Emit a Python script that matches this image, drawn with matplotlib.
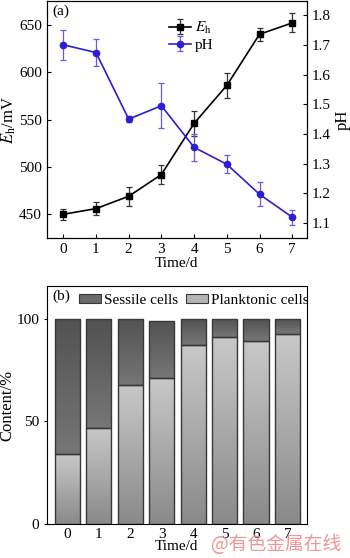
import matplotlib
matplotlib.use("Agg")
import matplotlib.pyplot as plt
import numpy as np
from matplotlib.patches import Patch

plt.rcParams['font.family'] = ['Liberation Serif', 'DejaVu Serif']
plt.rcParams['mathtext.fontset'] = 'stix'

days = [0, 1, 2, 3, 4, 5, 6, 7]
eh = [450, 456, 469, 492, 546, 586, 640, 652]
eh_err = [6, 7, 10, 10, 13, 13, 7, 10]
ph = [1.70, 1.674, 1.45, 1.495, 1.355, 1.298, 1.197, 1.12]
ph_err = [0.05, 0.045, 0.01, 0.076, 0.045, 0.03, 0.04, 0.025]
planktonic = [34, 47, 67.8, 71, 87.2, 91, 89, 92.4]
sessile = [66, 53, 32.2, 28, 12.8, 9, 11, 7.6]

FS = 11
fig = plt.figure(figsize=(3.5, 5.58), dpi=100)

# ---------- (a) ----------
ax = fig.add_axes([0.134, 0.5735, 0.743, 0.4245])
ax2 = ax.twinx()
l1 = ax.errorbar(days, eh, yerr=eh_err, color='black', marker='s', ms=4.5, lw=1.2,
                 ecolor='#333333', elinewidth=0.9, capsize=2.5, capthick=0.9, label=r'$E_{\rm h}$')
l2 = ax2.errorbar(days, ph, yerr=ph_err, color='#2c1fd2', marker='o', ms=4.5, lw=1.2,
                  ecolor='#6a5ae0', elinewidth=0.9, capsize=2.5, capthick=0.9, label='pH')
ax.set_xlim(-0.5, 7.45)
ax.set_ylim(425, 675)
ax2.set_ylim(1.05, 1.847)
ax.set_xticks(days)
ax.set_yticks([450, 500, 550, 600, 650])
ax2.set_yticks([1.1, 1.2, 1.3, 1.4, 1.5, 1.6, 1.7, 1.8])
ax2.set_yticklabels(['1.1', '1.2', '1.3', '1.4', '1.5', '1.6', '1.7', '1.8'])
ax.tick_params(direction='in', labelsize=FS, length=3)
ax2.tick_params(direction='in', labelsize=FS, length=3)
ax.set_xlabel('Time/d', fontsize=FS, labelpad=1)
ax.set_ylabel(r'$E_{\rm h}$/mV', fontsize=12, labelpad=1)
ax2.set_ylabel('pH', fontsize=12, labelpad=3)
ax.text(0.02, 0.985, '(a)', transform=ax.transAxes, fontsize=FS, va='top', ha='left')
ax.legend([l1, l2], [r'$E_{\rm h}$', 'pH'], loc='upper left', bbox_to_anchor=(0.47, 0.92),
          frameon=False, fontsize=FS, handlelength=1.4, handletextpad=0.3,
          borderpad=0, borderaxespad=0, labelspacing=0.15)

# ---------- (b) ----------
bx = fig.add_axes([0.134, 0.061, 0.743, 0.4265])
edge = '#383838'
b1 = bx.bar(days, planktonic, width=0.8, color='#b0b0b0', edgecolor=edge, lw=1.0, zorder=2)
b2 = bx.bar(days, sessile, bottom=planktonic, width=0.8, color='#666666', edgecolor=edge, lw=1.0, zorder=2)

def grad_fill(patches, top_col, bot_col):
    for p in patches:
        x0, y0 = p.get_x(), p.get_y()
        w, h = p.get_width(), p.get_height()
        t = np.linspace(0, 1, 64)[:, None]
        c0 = np.array(matplotlib.colors.to_rgb(top_col))
        c1 = np.array(matplotlib.colors.to_rgb(bot_col))
        img = (c0[None, None, :] * (1 - t[..., None]) + c1[None, None, :] * t[..., None])
        img = np.repeat(img, 2, axis=1)
        im = bx.imshow(img, extent=(x0, x0 + w, y0, y0 + h), origin='upper',
                       aspect='auto', zorder=2.5, interpolation='bilinear')
        im.set_clip_path(p)
        p.set_facecolor('none')
        p.set_zorder(3)

grad_fill(b1, '#c8c8c8', '#8a8a8a')
grad_fill(b2, '#525252', '#767676')

bx.set_xlim(-0.65, 7.62)
bx.set_ylim(0, 116)
bx.set_xticks(days)
bx.set_yticks([0, 50, 100])
bx.tick_params(axis='x', length=0, labelsize=FS, pad=3)
bx.tick_params(axis='y', direction='out', length=2, labelsize=FS)
bx.set_xlabel('Time/d', fontsize=FS, labelpad=-1)
bx.set_ylabel('Content/%', fontsize=12, labelpad=1)
bx.text(0.02, 0.985, '(b)', transform=bx.transAxes, fontsize=FS, va='top', ha='left')
h1 = Patch(facecolor='#6a6a6a', edgecolor=edge, lw=0.8)
h2 = Patch(facecolor='#b4b4b4', edgecolor=edge, lw=0.8)
bx.legend([h1, h2], ['Sessile cells', 'Planktonic cells'], loc='center left',
          bbox_to_anchor=(0.125, 0.94), ncol=2, frameon=False, fontsize=FS,
          handlelength=1.4, handleheight=0.55, handletextpad=0.2, columnspacing=0.55,
          borderpad=0, borderaxespad=0)

fig.text(0.79, 0.024, '@有色金属在线', color='#ee8a8a', alpha=0.9, fontsize=13.5,
         family=['Noto Sans CJK SC', 'DejaVu Sans'], ha='center', va='center')

fig.savefig('out.png', dpi=100)
